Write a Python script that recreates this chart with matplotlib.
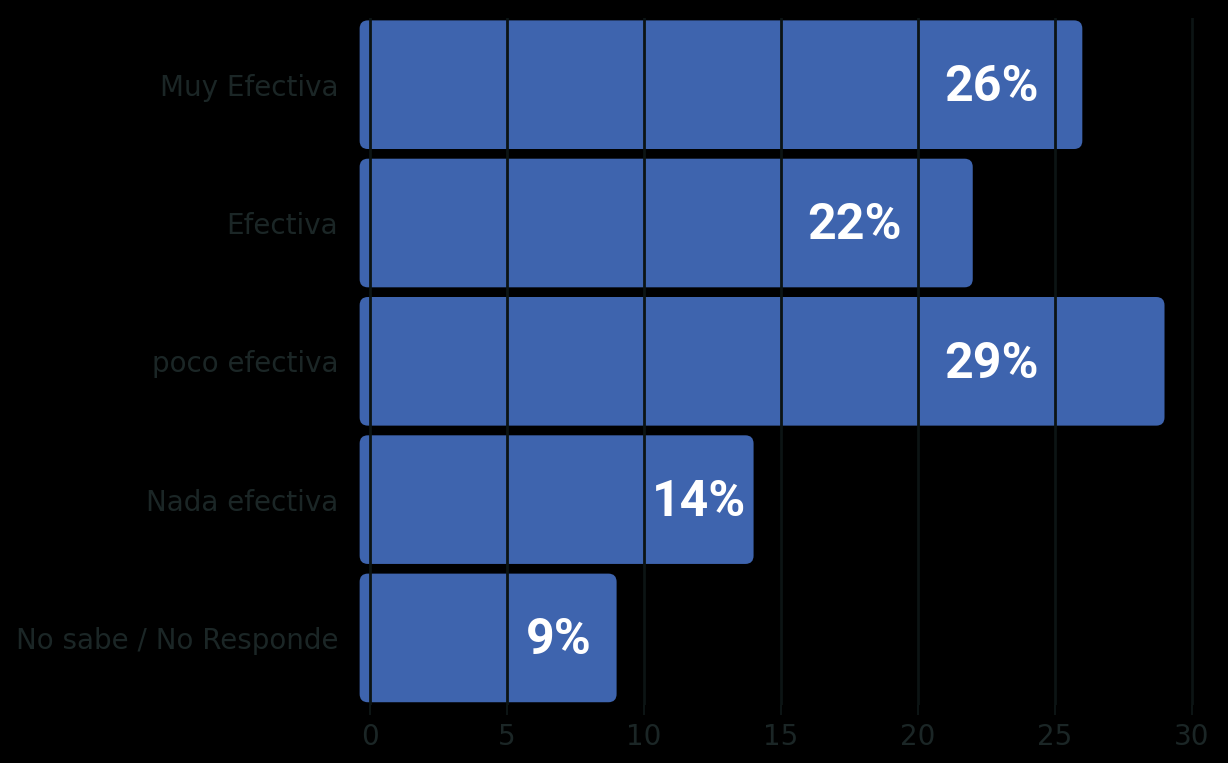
import numpy as np
import matplotlib
matplotlib.use("Agg")
import matplotlib.pyplot as plt
from matplotlib.patches import FancyBboxPatch

categories = ["Muy Efectiva", "Efectiva", "poco efectiva", "Nada efectiva", "No sabe / No Responde"]
values = [26, 22, 29, 14, 9]
labels = ["26%", "22%", "29%", "14%", "9%"]
label_x = [22.7, 17.7, 22.7, 12.0, 6.9]
xticks = [0, 5, 10, 15, 20, 25, 30]

bar_color = "#3e64ae"
text_dark = "#1b2626"
grid_dark = "#0c1414"

fig = plt.figure(figsize=(12.28, 7.63), dpi=100, facecolor="black")
ax = fig.add_axes([0.2913, 0.076, 0.686, 0.9])
ax.set_facecolor("black")

y = np.arange(len(categories))
bars = ax.barh(y, values, height=0.93, color=bar_color)

# replace the plain bars by rounded ones, slightly extended to the left
for b in bars:
    x0, y0 = b.get_x(), b.get_y()
    w, h = b.get_width(), b.get_height()
    b.set_visible(False)
    p = FancyBboxPatch((x0 - 0.38, y0), w + 0.38, h,
                       boxstyle="round,pad=0,rounding_size=0.3",
                       mutation_aspect=0.2, facecolor=bar_color,
                       edgecolor="none", zorder=1)
    ax.add_patch(p)

for xv in xticks:
    ax.axvline(xv, color=grid_dark, lw=2, zorder=2)

for yi, lx, lab in zip(y, label_x, labels):
    ax.text(lx, yi + 0.02, lab, ha="center", va="center", color="white",
            fontsize=36, fontweight="bold", family="Roboto", zorder=3)

ax.set_xlim(-0.45, 30.3)
ax.set_ylim(4.485, -0.48)
ax.set_xticks(xticks)
ax.set_yticks(y)
ax.set_yticklabels(categories, fontsize=20, color=text_dark)
ax.tick_params(axis="y", length=0, pad=14)
ax.tick_params(axis="x", length=7, width=1.5, color=grid_dark,
               labelsize=20, labelcolor=text_dark, pad=6)
for s in ax.spines.values():
    s.set_visible(False)

fig.savefig("out.png", dpi=100, facecolor="black")
